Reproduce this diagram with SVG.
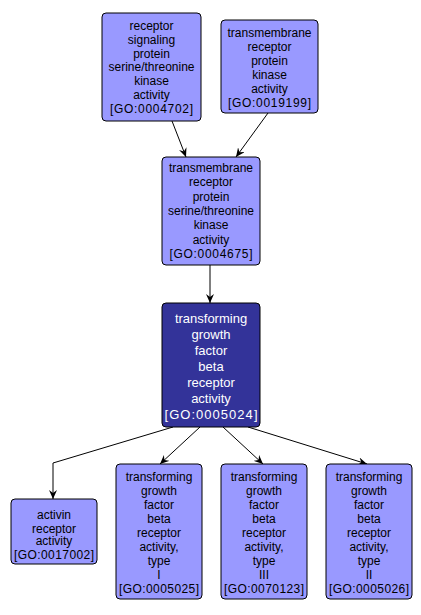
<svg xmlns="http://www.w3.org/2000/svg" width="421" height="615" viewBox="0 0 421 615">
<style>
.n rect{fill:#9999ff;stroke:#000;stroke-width:1}
.n text{font-family:"Liberation Sans",Arial,sans-serif;font-size:12px;fill:#000;text-anchor:middle}
.d rect{fill:#333399;stroke:#000;stroke-width:1}
.d text{font-family:"Liberation Sans",Arial,sans-serif;font-size:13px;fill:#fff;text-anchor:middle}
.e{fill:none;stroke:#000;stroke-width:1}
</style>
<defs>
<marker id="ah" markerUnits="userSpaceOnUse" markerWidth="10" markerHeight="8" refX="9" refY="4" orient="auto">
<path d="M0,0 L9,4 L0,8 L3,4 Z" fill="#000"/>
</marker>
</defs>
<rect width="421" height="615" fill="#fff"/>
<g id="connectors">
<path class="e" d="M172,121 L186,157" marker-end="url(#ah)"/>
<path class="e" d="M268,113 L236,157" marker-end="url(#ah)"/>
<path class="e" d="M210,265 L210,303" marker-end="url(#ah)"/>
<path class="e" d="M173,427 L53,463 L53,499" marker-end="url(#ah)"/>
<path class="e" d="M200,427 L160,464" marker-end="url(#ah)"/>
<path class="e" d="M223,427 L263,464" marker-end="url(#ah)"/>
<path class="e" d="M248,427 L367,464" marker-end="url(#ah)"/>
</g>
<g id="GO0004702" class="n">
<rect x="102" y="13" width="99" height="108" rx="4"/>
<text x="151.5" y="30">receptor</text>
<text x="151.5" y="43.8">signaling</text>
<text x="151.5" y="57.6">protein</text>
<text x="151.5" y="71.4">serine/threonine</text>
<text x="151.5" y="85.2">kinase</text>
<text x="151.5" y="99">activity</text>
<text x="151.5" y="112.8" textLength="83">[GO:0004702]</text>
</g>
<g id="GO0019199" class="n">
<rect x="221" y="20" width="97" height="93" rx="4"/>
<text x="269.5" y="37">transmembrane</text>
<text x="269.5" y="51">receptor</text>
<text x="269.5" y="65">protein</text>
<text x="269.5" y="79">kinase</text>
<text x="269.5" y="93">activity</text>
<text x="269.5" y="107" textLength="83">[GO:0019199]</text>
</g>
<g id="GO0004675" class="n">
<rect x="162" y="157" width="98" height="108" rx="4"/>
<text x="211" y="172">transmembrane</text>
<text x="211" y="186.3">receptor</text>
<text x="211" y="200.6">protein</text>
<text x="211" y="214.9">serine/threonine</text>
<text x="211" y="229.2">kinase</text>
<text x="211" y="243.5">activity</text>
<text x="211" y="257.8" textLength="83">[GO:0004675]</text>
</g>
<g id="GO0005024" class="d">
<rect x="162" y="303" width="98" height="124" rx="4"/>
<text x="211" y="322.5">transforming</text>
<text x="211" y="338.5">growth</text>
<text x="211" y="354.5">factor</text>
<text x="211" y="370.5">beta</text>
<text x="211" y="386.5">receptor</text>
<text x="211" y="402.5">activity</text>
<text x="211" y="418.5" textLength="93">[GO:0005024]</text>
</g>
<g id="GO0017002" class="n">
<rect x="11" y="499" width="86" height="65" rx="4"/>
<text x="54" y="519">activin</text>
<text x="54" y="532.5">receptor</text>
<text x="54" y="545">activity</text>
<text x="54" y="559" textLength="80">[GO:0017002]</text>
</g>
<g id="GO0005025" class="n">
<rect x="116" y="464" width="86" height="135" rx="4"/>
<text x="159" y="481">transforming</text>
<text x="159" y="495">growth</text>
<text x="159" y="509">factor</text>
<text x="159" y="523">beta</text>
<text x="159" y="537">receptor</text>
<text x="159" y="551">activity,</text>
<text x="159" y="565">type</text>
<text x="159" y="579">I</text>
<text x="159" y="593" textLength="80">[GO:0005025]</text>
</g>
<g id="GO0070123" class="n">
<rect x="221" y="464" width="86" height="135" rx="4"/>
<text x="264" y="481">transforming</text>
<text x="264" y="495">growth</text>
<text x="264" y="509">factor</text>
<text x="264" y="523">beta</text>
<text x="264" y="537">receptor</text>
<text x="264" y="551">activity,</text>
<text x="264" y="565">type</text>
<text x="264" y="579">III</text>
<text x="264" y="593" textLength="80">[GO:0070123]</text>
</g>
<g id="GO0005026" class="n">
<rect x="326" y="464" width="86" height="135" rx="4"/>
<text x="369" y="481">transforming</text>
<text x="369" y="495">growth</text>
<text x="369" y="509">factor</text>
<text x="369" y="523">beta</text>
<text x="369" y="537">receptor</text>
<text x="369" y="551">activity,</text>
<text x="369" y="565">type</text>
<text x="369" y="579">II</text>
<text x="369" y="593" textLength="80">[GO:0005026]</text>
</g>
</svg>
